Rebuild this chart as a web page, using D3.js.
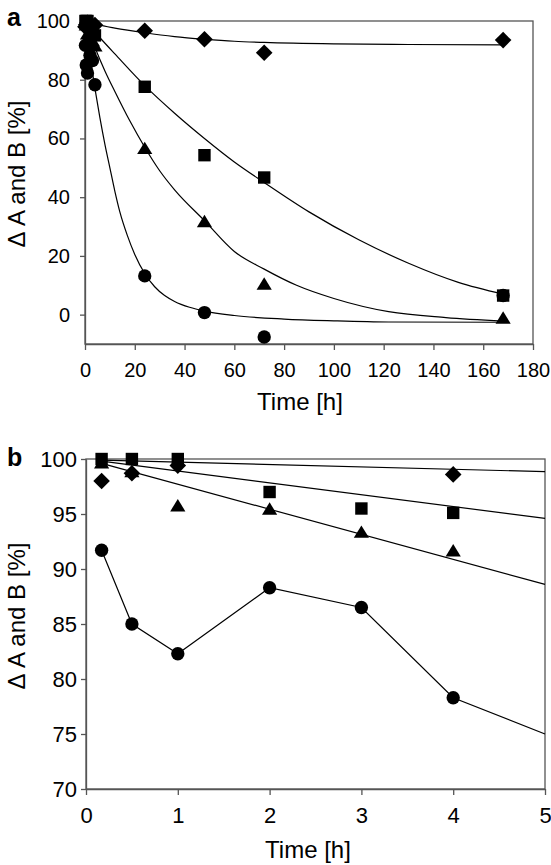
<!DOCTYPE html>
<html><head><meta charset="utf-8">
<script src="https://cdn.jsdelivr.net/npm/d3@7"></script>
<style>
body{margin:0;background:#fff;}
text{font-family:"Liberation Sans",Arial,sans-serif;fill:#000;}
</style></head>
<body>
<svg id="chart" width="551" height="865"></svg>
<script>
// ---- data ----
const diamondT = [0.17, 0.5, 1, 4, 24, 48, 72, 168];
const diamondV = [98.0, 98.7, 99.4, 98.6, 96.7, 93.8, 89.2, 93.5];
const squareT = [0.17, 0.5, 1, 2, 3, 4, 24, 48, 72, 168];
const squareV = [100, 100, 100, 97.0, 95.5, 95.1, 77.6, 54.3, 46.7, 6.5];
const triangleT = [0.17, 0.5, 1, 2, 3, 4, 24, 48, 72, 168];
const triangleV = [99.7, 98.9, 95.8, 95.5, 93.4, 91.7, 56.8, 31.9, 10.6, -1.0];
const circleT = [0.17, 0.5, 1, 2, 3, 4, 24, 48, 72, 168];
const circleV = [91.7, 85.0, 82.3, 88.3, 86.5, 78.3, 13.2, 0.7, -7.6, 6.5];

// fitted curves in panel a
const diamondFitA = [[0,100],[5,98.8],[12,97.6],[24,96],[36,94.7],[48,93.8],[60,93.1],[72,92.7],[100,92.2],[130,92],[168,91.9]];
const squareFitA = [[0,100],[6,94.3],[12,88.8],[24,78],[36,68.6],[48,60],[60,52],[72,45],[90,35],[110,25.5],[130,17.5],[150,11],[168,7]];
const triangleFitA = [[0,100],[4,91],[8,83],[12,76],[18,66],[24,57],[30,49],[36,42.5],[48,32],[60,21.5],[72,15.5],[85,10],[100,5.5],[122,1],[145,-1],[168,-2.2]];
const circleFitA = [[0,100],[2,88],[4,77],[6,67],[8,58],[10,50],[12,42],[14,35],[17,27],[20,20.5],[24,14],[28,9.5],[32,6.5],[36,4.5],[42,2.5],[48,1.2],[60,-0.3],[80,-1.5],[100,-2.1],[122,-2.5],[168,-2.6]];

// lines in panel b
const diamondLineB = [[0.17,99.9],[5,98.85]];
const squareLineB = [[0.17,99.8],[5,94.6]];
const triangleLineB = [[0.17,99.6],[5,88.6]];
const circleLineB = [[0.17,91.7],[0.5,85.0],[1,82.3],[2,88.3],[3,86.5],[4,78.3],[5,75]];

const xTicksA = [0,20,40,60,80,100,120,140,160,180];
const yTicksA = [0,20,40,60,80,100];
const xTicksB = [0,1,2,3,4,5];
const yTicksB = [70,75,80,85,90,95,100];

const panelLabels = ["a","b"];
const xTitle = "Time [h]";
const yTitle = "\u0394 A and B [%]";

// ---- drawing ----
const svg = d3.select("#chart");
const AXIS = "#555";

function markerPath(shape){
  if(shape==="diamond"){ const r=8.3; return `M0,${-r}L${r},0L0,${r}L${-r},0Z`; }
  if(shape==="square"){ const h=6.2; return `M${-h},${-h}H${h}V${h}H${-h}Z`; }
  if(shape==="triangle"){ const w=7.6, hh=6.2; return `M0,${-hh}L${w},${hh}L${-w},${hh}Z`; }
  return d3.symbol(d3.symbolCircle, 140)();
}

const seriesDefs = [
  {shape:"diamond", t:diamondT, v:diamondV, fitA:diamondFitA, lineB:diamondLineB},
  {shape:"square", t:squareT, v:squareV, fitA:squareFitA, lineB:squareLineB},
  {shape:"triangle", t:triangleT, v:triangleV, fitA:triangleFitA, lineB:triangleLineB},
  {shape:"circle", t:circleT, v:circleV, fitA:circleFitA, lineB:circleLineB}
];

function panel(opts){
  const {left,right,top,bottom,xDom,yDom,xTicks,yTicks,label,labelX,labelY,tickFont,tickPadY,tickPadX,titleFont,titleCX,titleX,titleY,yTitleY,which} = opts;
  const x = d3.scaleLinear().domain(xDom).range([left,right]);
  const y = d3.scaleLinear().domain(yDom).range([bottom,top]);
  const g = svg.append("g");

  g.append("rect").attr("x",left).attr("y",top).attr("width",right-left).attr("height",bottom-top)
    .attr("fill","none").attr("stroke",AXIS).attr("stroke-width",1.3);

  const xa = g.append("g").attr("transform",`translate(0,${bottom})`)
    .call(d3.axisBottom(x).tickValues(xTicks).tickSize(6).tickSizeOuter(0).tickPadding(tickPadX).tickFormat(d3.format("d")));
  const ya = g.append("g").attr("transform",`translate(${left},0)`)
    .call(d3.axisLeft(y).tickValues(yTicks).tickSize(5).tickSizeOuter(0).tickPadding(tickPadY).tickFormat(d3.format("d")));
  [xa,ya].forEach(a=>{
    a.select(".domain").attr("stroke",AXIS).attr("stroke-width",1.3);
    a.selectAll(".tick line").attr("stroke",AXIS).attr("stroke-width",1.3);
    a.selectAll(".tick text").attr("fill","#000").style("font-size",tickFont+"px")
      .style("font-family","'Liberation Sans',Arial,sans-serif");
  });

  const line = d3.line().x(d=>x(d[0])).y(d=>y(d[1]));
  seriesDefs.forEach(s=>{
    const pts = which==="a" ? s.fitA : s.lineB;
    const crv = which==="a" ? d3.curveMonotoneX : d3.curveLinear;
    g.append("path").datum(pts).attr("d", line.curve(crv))
      .attr("fill","none").attr("stroke","#000").attr("stroke-width",1.2);
  });

  seriesDefs.forEach(s=>{
    const pts = s.t.map((t,i)=>[t,s.v[i]]).filter(d=>d[0]<=xDom[1]);
    g.append("g").selectAll("path").data(pts).join("path")
      .attr("d", markerPath(s.shape))
      .attr("transform", d=>`translate(${x(d[0])},${y(d[1])})`)
      .attr("fill","#000");
  });

  g.append("text").attr("x",titleCX).attr("y",titleY).attr("text-anchor","middle")
    .style("font-size",titleFont+"px").text(xTitle);
  g.append("text").attr("transform",`translate(${titleX},${yTitleY}) rotate(-90)`).attr("text-anchor","middle")
    .style("font-size",titleFont+"px").text(yTitle);
  g.append("text").attr("x",labelX).attr("y",labelY).style("font-size","25px").style("font-weight","bold").text(label);
}

panel({which:"a",left:85,right:533,top:21,bottom:344,xDom:[0,180],yDom:[-10,100],xTicks:xTicksA,yTicks:yTicksA,
  label:panelLabels[0],labelX:7,labelY:26,tickFont:20,tickPadY:10,tickPadX:13,titleFont:24,titleCX:300,titleX:25,titleY:410,yTitleY:174});
panel({which:"b",left:86,right:545,top:459,bottom:789,xDom:[0,5],yDom:[70,100],xTicks:xTicksB,yTicks:yTicksB,
  label:panelLabels[1],labelX:7,labelY:466,tickFont:22,tickPadY:4,tickPadX:12,titleFont:24,titleCX:308,titleX:25,titleY:858,yTitleY:616});
</script>
</body></html>
